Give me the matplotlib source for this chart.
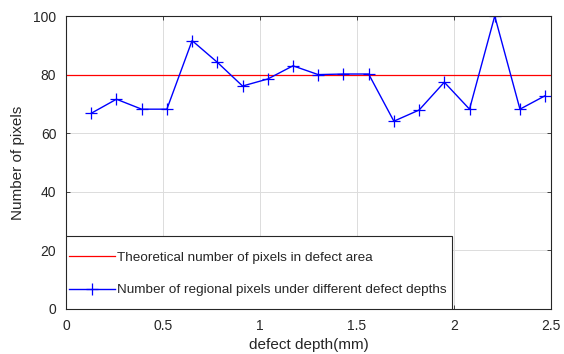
import matplotlib.pyplot as plt
from matplotlib.patches import Rectangle

plt.rcParams['font.family'] = ['Liberation Sans', 'DejaVu Sans']

depth = [0.13, 0.26, 0.39, 0.52, 0.65, 0.78, 0.91, 1.04, 1.17, 1.30,
         1.43, 1.56, 1.69, 1.82, 1.95, 2.08, 2.21, 2.34, 2.47]
pixels = [66.8, 71.6, 68.2, 68.2, 91.6, 84.2, 76.1, 78.5, 83.0, 80.0,
          80.2, 80.2, 64.1, 67.9, 77.4, 68.2, 100.0, 68.2, 72.8]
theory = 80

fig = plt.figure(figsize=(5.64, 3.54), dpi=100)
ax = fig.add_axes([66 / 564, 1 - 309 / 354, (551 - 66) / 564, (309 - 16) / 354])

ax.axhline(theory, color="#ff0000", lw=0.9, label="Theoretical number of pixels in defect area")
ax.plot(depth, pixels, color="#0000ff", lw=1.0, marker="+", ms=8, mew=0.9,
        label="Number of regional pixels under different defect depths")

ax.set_xlim(0, 2.5)
ax.set_ylim(0, 100)
ax.set_xticks([0, 0.5, 1, 1.5, 2, 2.5])
ax.set_xticklabels(["0", "0.5", "1", "1.5", "2", "2.5"])
ax.set_yticks([0, 20, 40, 60, 80, 100])

dark = "#262626"
ax.grid(color="#dcdcdc", lw=0.7)
ax.set_axisbelow(True)
for s in ax.spines.values():
    s.set_color(dark)
    s.set_linewidth(0.8)
ax.tick_params(direction="in", top=True, right=True, length=3, width=0.6,
               colors=dark, labelsize=10, pad=7)

ax.set_xlabel("defect depth(mm)", fontsize=11, color=dark, labelpad=4)
ax.set_ylabel("Number of pixels", fontsize=11, color=dark, labelpad=6)

# legend box drawn by hand (MATLAB style, tall with tight sides)
box_w = (452 - 66) / 485
box_h = (309 - 236) / 293
ax.add_patch(Rectangle((0, 0), box_w, box_h, transform=ax.transAxes,
                       facecolor="white", edgecolor=dark, lw=0.8, zorder=5))
leg = ax.legend(loc="center left", bbox_to_anchor=(0.0, box_h / 2 - 0.005), borderaxespad=0,
                fontsize=9.7, frameon=False, handlelength=3.4, labelspacing=1.5,
                borderpad=0.25, handletextpad=0.15)
leg.set_zorder(6)
for t in leg.get_texts():
    t.set_color(dark)

plt.savefig("out.png", dpi=100)
